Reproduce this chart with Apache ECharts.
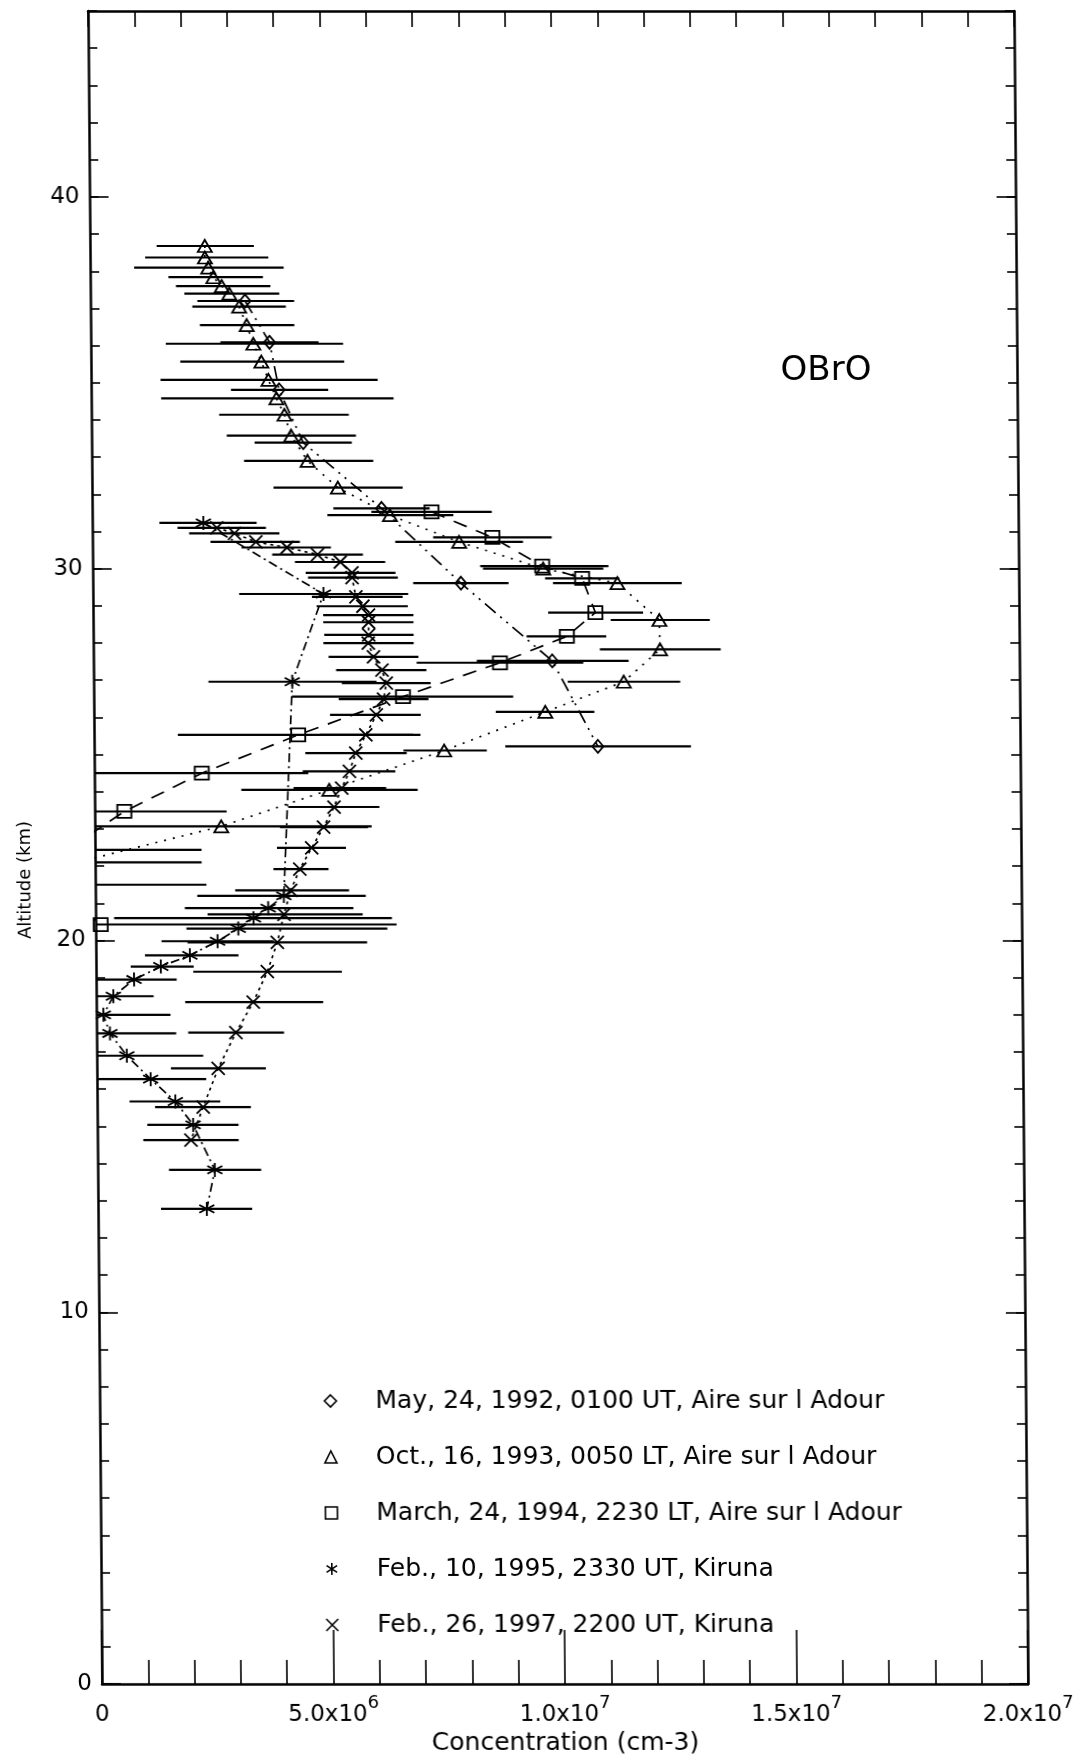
<!DOCTYPE html>
<html>
<head>
<meta charset="utf-8">
<script src="https://cdn.jsdelivr.net/npm/echarts@6/dist/echarts.min.js"></script>
<style>
html,body{margin:0;padding:0;background:#fff;}
#chart{width:1082px;height:1761px;transform:skewX(0.48deg);transform-origin:50% 48.1%;}
</style>
</head>
<body>
<div id="chart"></div>
<script>
// OBrO number density profiles. Values are in units of 1e6 molecules cm^-3, altitudes in km.
const UNIT = 1e6;
const FONT = '"DejaVu Sans", sans-serif';

const seriesNames = [
  'May, 24, 1992, 0100 UT, Aire sur l Adour',
  'Oct., 16, 1993, 0050 LT, Aire sur l Adour',
  'March, 24, 1994, 2230 LT, Aire sur l Adour',
  'Feb., 10, 1995, 2330 UT, Kiruna',
  'Feb., 26, 1997, 2200 UT, Kiruna'
];

// May 1992 flight (diamonds)
const may92Alt = [37.2, 36.09, 34.81, 33.39, 31.62, 29.61, 27.52, 25.22];
const may92Val = [3.34, 3.86, 4.06, 4.57, 6.25, 7.95, 9.91, 10.88];
const may92Lo  = [2.31, 2.80, 3.02, 3.52, 5.21, 6.92, 8.28, 8.88];
const may92Hi  = [4.40, 4.92, 5.12, 5.62, 7.29, 8.98, 11.56, 12.89];

// October 1993 flight (triangles)
const oct93Alt = [38.68, 38.37, 38.1, 37.84, 37.6, 37.4, 37.05, 36.55, 36.05, 35.57, 35.08, 34.58, 34.14, 33.58, 32.9, 32.18, 31.44, 30.72, 30.0, 29.61, 28.62, 27.83, 26.96, 26.15, 25.11, 24.05, 23.07, 22.1];
const oct93Val = [2.48, 2.48, 2.55, 2.66, 2.84, 3.00, 3.21, 3.37, 3.51, 3.68, 3.83, 4.00, 4.17, 4.31, 4.66, 5.31, 6.43, 7.92, 9.73, 11.33, 12.23, 12.24, 11.45, 9.75, 7.56, 5.07, 2.73, -0.4];
const oct93Lo  = [1.44, 1.19, 0.95, 1.69, 1.85, 2.03, 2.20, 2.36, 1.62, 1.93, 1.50, 1.51, 2.76, 2.92, 3.29, 3.92, 5.08, 6.54, 8.43, 9.94, 11.18, 10.94, 10.24, 8.68, 6.68, 3.17, -0.53, -3.1];
const oct93Hi  = [3.54, 3.85, 4.18, 3.73, 3.89, 4.08, 4.22, 4.40, 5.45, 5.47, 6.19, 6.53, 5.56, 5.71, 6.08, 6.71, 7.80, 9.30, 11.03, 12.72, 13.32, 13.55, 12.67, 10.81, 8.48, 6.98, 5.98, 2.3];

// March 1994 flight (squares)
const mar94Alt = [31.53, 30.84, 30.07, 29.74, 28.82, 28.18, 27.47, 26.56, 25.53, 24.5, 23.47, 22.44, 21.5, 20.43];
const mar94Val = [7.33, 8.64, 9.71, 10.57, 10.85, 10.23, 8.78, 6.68, 4.41, 2.32, 0.64, -0.6, -0.9, 0.11];
const mar94Lo  = [6.03, 7.36, 8.37, 9.77, 9.83, 9.36, 6.98, 4.28, 1.81, 0.02, -1.6, -3.5, -4.2, -6.3];
const mar94Hi  = [8.63, 9.92, 11.14, 11.37, 11.88, 11.08, 10.58, 9.06, 7.05, 4.62, 2.85, 2.3, 2.4, 6.5];

// February 1995 flight (asterisks)
const feb95Alt = [31.23, 29.32, 26.96, 21.2, 20.87, 20.6, 20.32, 19.98, 19.6, 19.3, 18.95, 18.5, 18.0, 17.5, 16.9, 16.27, 15.67, 15.04, 13.83, 12.78];
const feb95Val = [2.40, 4.98, 4.29, 4.07, 3.73, 3.41, 3.08, 2.63, 2.03, 1.40, 0.82, 0.37, 0.15, 0.29, 0.65, 1.16, 1.69, 2.07, 2.53, 2.35];
const feb95Lo  = [1.45, 3.16, 2.48, 2.20, 1.93, 0.40, 1.96, 1.42, 1.06, 0.75, -0.10, -0.50, -1.30, -1.14, -1.00, -0.04, 0.70, 1.08, 1.54, 1.36];
const feb95Hi  = [3.55, 6.81, 6.11, 5.84, 5.57, 6.40, 6.30, 3.84, 3.08, 2.11, 1.74, 1.24, 1.60, 1.72, 2.30, 2.36, 2.66, 3.05, 3.53, 3.33];

// February 1997 flight (crosses)
const feb97Alt = [31.1, 30.95, 30.72, 30.57, 30.38, 30.18, 29.89, 29.76, 29.24, 28.99, 28.75, 28.56, 28.22, 28.0, 27.63, 27.27, 26.92, 26.49, 26.07, 25.53, 25.04, 24.55, 24.1, 23.59, 23.05, 22.49, 21.92, 21.35, 20.7, 19.95, 19.16, 18.34, 17.52, 16.56, 15.52, 14.63];
const feb97Val = [2.69, 3.07, 3.53, 4.20, 4.86, 5.35, 5.60, 5.60, 5.68, 5.83, 5.95, 5.95, 5.95, 5.94, 6.05, 6.23, 6.32, 6.26, 6.10, 5.87, 5.65, 5.51, 5.34, 5.17, 4.94, 4.68, 4.42, 4.22, 4.07, 3.92, 3.70, 3.39, 3.01, 2.62, 2.29, 2.02];
const feb97Lo  = [1.84, 2.09, 2.55, 3.22, 3.88, 4.37, 4.60, 4.65, 4.73, 4.83, 4.97, 4.97, 4.99, 4.97, 5.08, 5.24, 5.36, 5.29, 5.10, 4.88, 4.56, 4.50, 4.30, 4.18, 4.00, 3.93, 3.85, 3.02, 2.42, 1.98, 2.10, 1.92, 1.98, 1.60, 1.25, 0.99];
const feb97Hi  = [3.75, 4.04, 4.48, 5.15, 5.84, 6.32, 6.54, 6.59, 6.69, 6.80, 6.92, 6.92, 6.92, 6.92, 7.02, 7.19, 7.28, 7.23, 7.06, 6.89, 6.75, 6.50, 6.30, 6.15, 5.90, 5.42, 5.04, 5.48, 5.77, 5.86, 5.31, 4.90, 4.05, 3.65, 3.32, 3.05];

// Axis ticks
const xMajorStep = 5e6;
const yLabelValues = [0, 10, 20, 30, 40];

const ASTERISK = 'path://M50 0L50 100M6 22L94 78M94 22L6 78';
const CROSS = 'path://M0 0L100 100M100 0L0 100';

function points(vals, alts) { return vals.map((v, i) => [v * UNIT, alts[i]]); }
function ranges(lo, hi, alts) { return lo.map((l, i) => [l * UNIT, hi[i] * UNIT, alts[i]]); }

function renderBar(params, api) {
  const cs = params.coordSys;
  const a = api.coord([api.value(0), api.value(2)]);
  const b = api.coord([api.value(1), api.value(2)]);
  const x1 = Math.max(cs.x, Math.min(cs.x + cs.width, a[0]));
  const x2 = Math.max(cs.x, Math.min(cs.x + cs.width, b[0]));
  return {
    type: 'line',
    shape: { x1: x1, y1: a[1], x2: x2, y2: b[1] },
    style: { stroke: '#000', lineWidth: 2.2 }
  };
}

const profiles = [
  { name: seriesNames[0], alt: may92Alt, val: may92Val, lo: may92Lo, hi: may92Hi, symbol: 'diamond', size: [11, 13], dash: [14, 6, 2, 6, 2, 6] },
  { name: seriesNames[1], alt: oct93Alt, val: oct93Val, lo: oct93Lo, hi: oct93Hi, symbol: 'triangle', size: [14, 12], dash: [2, 7] },
  { name: seriesNames[2], alt: mar94Alt, val: mar94Val, lo: mar94Lo, hi: mar94Hi, symbol: 'rect', size: [14, 13], dash: [14, 10] },
  { name: seriesNames[3], alt: feb95Alt, val: feb95Val, lo: feb95Lo, hi: feb95Hi, symbol: ASTERISK, size: [15, 14], dash: [9, 4, 2, 4] },
  { name: seriesNames[4], alt: feb97Alt, val: feb97Val, lo: feb97Lo, hi: feb97Hi, symbol: CROSS, size: [13, 13], dash: [3, 4] }
];

const series = [];
profiles.forEach(p => {
  series.push({
    type: 'custom',
    renderItem: renderBar,
    data: ranges(p.lo, p.hi, p.alt),
    encode: { x: [0, 1], y: 2 },
    clip: true,
    silent: true,
    z: 2
  });
});
profiles.forEach(p => {
  series.push({
    name: p.name,
    type: 'line',
    data: points(p.val, p.alt),
    symbol: p.symbol,
    symbolSize: p.size,
    showSymbol: true,
    clip: true,
    lineStyle: { color: '#000', width: 1.7, type: p.dash },
    itemStyle: { color: 'rgba(0,0,0,0)', borderColor: '#000', borderWidth: 1.8 },
    emphasis: { disabled: true },
    z: 3
  });
});

// "5.0x10" followed by a raised exponent: both pieces hang from the top of the line,
// the mantissa is pushed down by its top padding so the exponent sits above it.
function xLabel(v) {
  if (v === 0) return '{n|0}';
  const e = Math.floor(Math.log10(v) + 1e-9);
  const m = v / Math.pow(10, e);
  return '{n|' + m.toFixed(1) + 'x10}{s|' + e + '}';
}

const axisLineStyle = { color: '#000', width: 2.5 };
const tickStyle = { color: '#000', width: 1.6 };

const chart = echarts.init(document.getElementById('chart'), null, { renderer: 'canvas' });
chart.setOption({
  animation: false,
  backgroundColor: '#fff',
  grid: { left: 95, right: 61, top: 11, bottom: 74 },
  xAxis: [
    {
      type: 'value', position: 'bottom', min: 0, max: 2e7, interval: xMajorStep,
      axisLine: { show: true, onZero: false, lineStyle: axisLineStyle },
      axisTick: { show: true, inside: true, length: 54, lineStyle: tickStyle },
      minorTick: { show: true, splitNumber: 5, length: 24, lineStyle: tickStyle },
      splitLine: { show: false }, minorSplitLine: { show: false },
      axisLabel: {
        margin: 10, formatter: xLabel,
        rich: {
          n: { fontFamily: FONT, fontSize: 23, color: '#000', verticalAlign: 'top', padding: [9, 0, 0, 0] },
          s: { fontFamily: FONT, fontSize: 18, color: '#000', verticalAlign: 'top', padding: [0, 0, 0, 0] }
        }
      },
      name: 'Concentration (cm-3)', nameLocation: 'middle', nameGap: 44,
      nameTextStyle: { fontFamily: FONT, fontSize: 25, color: '#000' }
    },
    {
      type: 'value', position: 'top', min: 0, max: 2e7, interval: xMajorStep,
      axisLine: { show: true, onZero: false, lineStyle: axisLineStyle },
      axisTick: { show: true, inside: true, length: 16, lineStyle: tickStyle },
      minorTick: { show: true, splitNumber: 5, length: 16, lineStyle: tickStyle },
      splitLine: { show: false }, minorSplitLine: { show: false },
      axisLabel: { show: false }
    }
  ],
  yAxis: [
    {
      type: 'value', position: 'left', min: 0, max: 45, interval: 1,
      axisLine: { show: true, onZero: false, lineStyle: axisLineStyle },
      axisTick: { show: true, inside: true, length: 9, lineStyle: tickStyle },
      axisLabel: { show: false }, splitLine: { show: false }
    },
    {
      type: 'value', position: 'left', min: 0, max: 45,
      axisLine: { show: false, onZero: false },
      axisTick: { show: true, inside: true, length: 19, lineStyle: tickStyle, customValues: yLabelValues },
      axisLabel: { show: true, margin: 10, fontFamily: FONT, fontSize: 23, color: '#000', customValues: yLabelValues },
      splitLine: { show: false }
    },
    {
      type: 'value', position: 'right', min: 0, max: 45, interval: 1,
      axisLine: { show: true, onZero: false, lineStyle: axisLineStyle },
      axisTick: { show: true, inside: true, length: 9, lineStyle: tickStyle },
      axisLabel: { show: false }, splitLine: { show: false }
    },
    {
      type: 'value', position: 'right', min: 0, max: 45,
      axisLine: { show: false, onZero: false },
      axisTick: { show: true, inside: true, length: 19, lineStyle: tickStyle, customValues: yLabelValues },
      axisLabel: { show: false }, splitLine: { show: false }
    }
  ],
  legend: {
    orient: 'vertical', left: 314, top: 1382,
    itemWidth: 12, itemHeight: 12, itemGap: 28,
    selectedMode: false,
    textStyle: { fontFamily: FONT, fontSize: 25, color: '#000', lineHeight: 28, padding: [0, 0, 0, 34] },
    itemStyle: { color: 'rgba(0,0,0,0)', borderColor: '#000', borderWidth: 1.6 },
    data: [
      { name: seriesNames[0], icon: 'diamond' },
      { name: seriesNames[1], icon: 'triangle' },
      { name: seriesNames[2], icon: 'rect' },
      { name: seriesNames[3], icon: ASTERISK },
      { name: seriesNames[4], icon: CROSS }
    ]
  },
  graphic: [
    {
      type: 'text', x: 830, y: 371,
      style: { text: 'OBrO', fontFamily: FONT, fontSize: 34, fill: '#000', textAlign: 'center', textVerticalAlign: 'middle', align: 'center', verticalAlign: 'middle' }
    },
    {
      type: 'text', x: 25, y: 880, rotation: Math.PI / 2,
      style: { text: 'Altitude (km)', fontFamily: FONT, fontSize: 18, fill: '#000', textAlign: 'center', textVerticalAlign: 'middle', align: 'center', verticalAlign: 'middle' }
    }
  ],
  series: series
});
</script>
</body>
</html>
